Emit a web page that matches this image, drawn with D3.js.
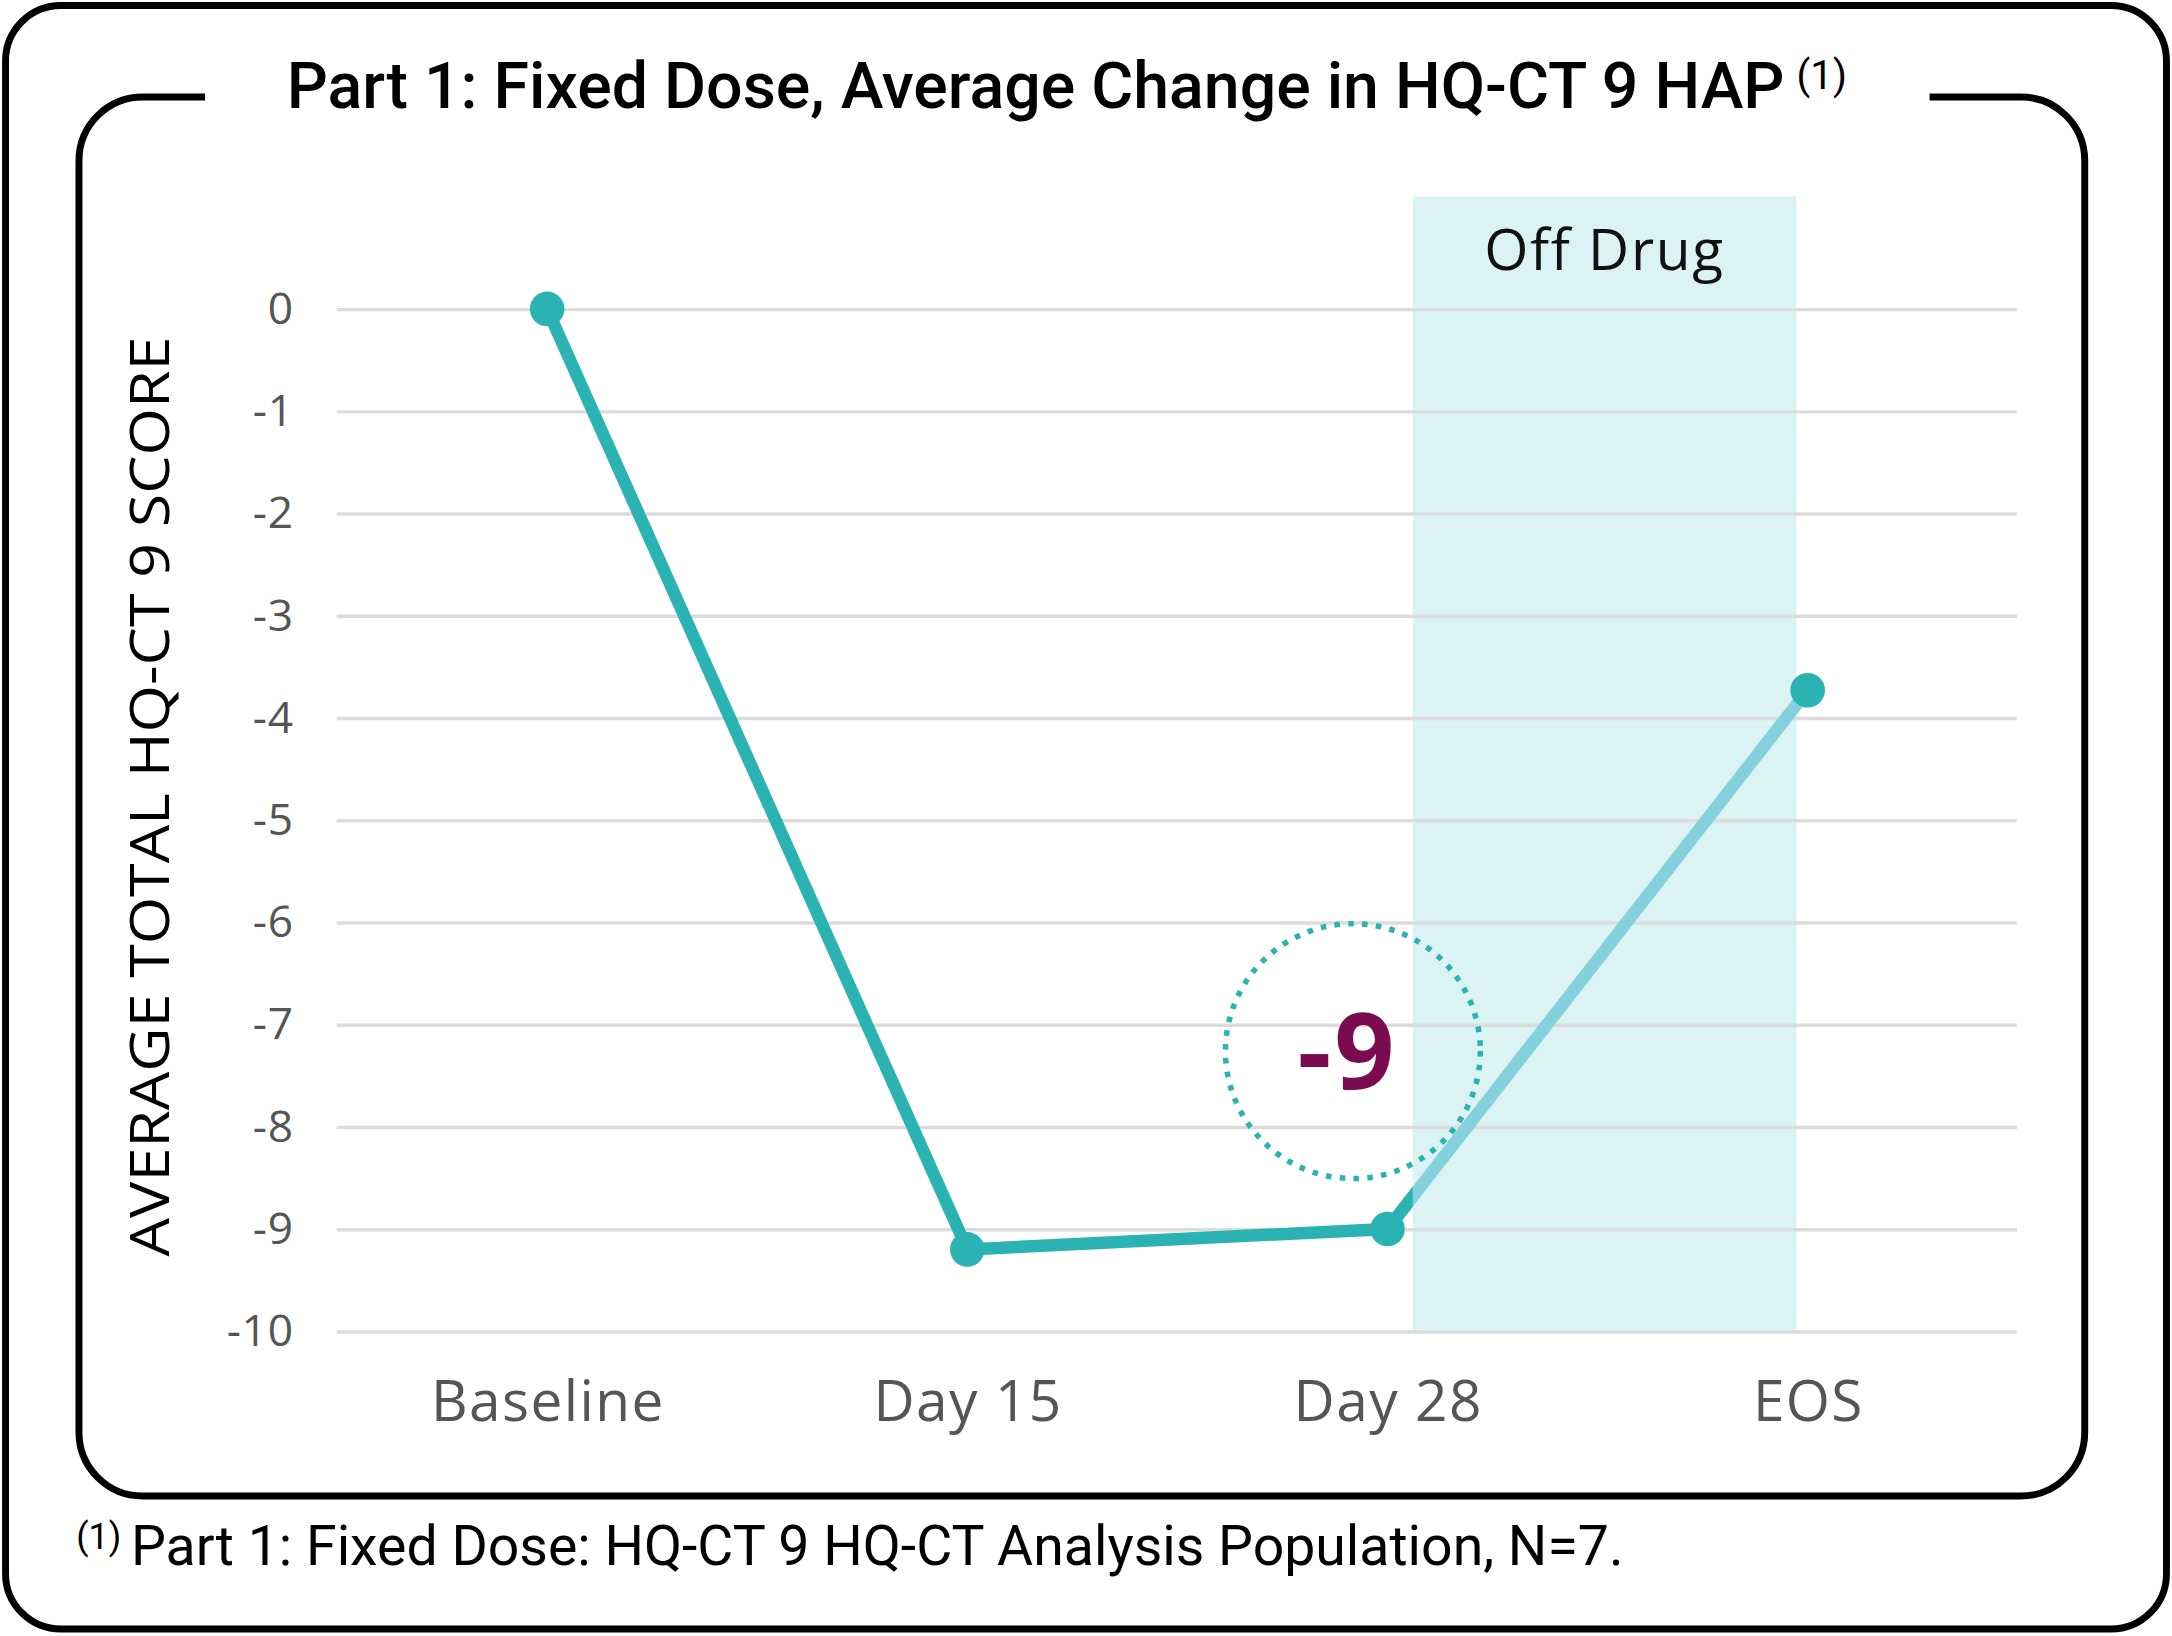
<!DOCTYPE html>
<html>
<head>
<meta charset="utf-8">
<script src="https://cdn.jsdelivr.net/npm/d3@7"></script>
<style>
  html, body { margin: 0; padding: 0; background: #fff; }
  svg { display: block; }
</style>
</head>
<body>
<svg id="canvas" width="2172" height="1636" viewBox="0 0 1568 1181"></svg>
<script>
'use strict';

/* chart data */
const categories = ['Baseline', 'Day 15', 'Day 28', 'EOS'];
const changeValues = [0, -9.2, -9.0, -3.73];
const yTicks = [0, -1, -2, -3, -4, -5, -6, -7, -8, -9, -10];
const offDrugFrom = 'Day 28';
const offDrugTo = 'EOS';
const highlightLabel = '-9';

const titleText = 'Part 1: Fixed Dose, Average Change in HQ-CT 9 HAP';
const yTitle = 'AVERAGE TOTAL HQ-CT 9 SCORE';
const footText = 'Part 1: Fixed Dose: HQ-CT 9 HQ-CT Analysis Population, N=7.';

const teal = '#2bb3b3';
const lightTeal = '#84d1dd';
const shade = '#dbf3f3';
const plum = '#7a0b50';
const sans = "'Open Sans', 'DejaVu Sans', sans-serif";
const roboto = "Roboto, 'Liberation Sans', sans-serif";

const svg = d3.select('#canvas');

/* plotting area, in viewBox units */
const plot = {left: 243, right: 1456, top: 223, bottom: 961};

const x = d3.scalePoint()
  .domain(categories)
  .range([395, 1305]);
const y = d3.scaleLinear()
  .domain([-10, 0])
  .range([plot.bottom, plot.top]);

const data = categories.map((c, i) => ({cat: c, value: changeValues[i]}));

/* outer frame */
svg.append('rect')
  .attr('x', 4).attr('y', 4)
  .attr('width', 1560).attr('height', 1172)
  .attr('rx', 40)
  .attr('fill', '#fff')
  .attr('stroke', '#000')
  .attr('stroke-width', 5);

/* inner frame, open at the top to leave room for the title */
const fx0 = 57, fx1 = 1505, fy0 = 70, fy1 = 1080, r = 46;
const framePath = d3.path();
framePath.moveTo(148, fy0);
framePath.lineTo(fx0 + r, fy0);
framePath.arcTo(fx0, fy0, fx0, fy0 + r, r);
framePath.lineTo(fx0, fy1 - r);
framePath.arcTo(fx0, fy1, fx0 + r, fy1, r);
framePath.lineTo(fx1 - r, fy1);
framePath.arcTo(fx1, fy1, fx1, fy1 - r, r);
framePath.lineTo(fx1, fy0 + r);
framePath.arcTo(fx1, fy0, fx1 - r, fy0, r);
framePath.lineTo(1393, fy0);
svg.append('path')
  .attr('d', framePath.toString())
  .attr('fill', 'none')
  .attr('stroke', '#000')
  .attr('stroke-width', 5);

/* title with superscript note marker */
const title = svg.append('text')
  .attr('x', 207).attr('y', 78)
  .style('font-family', roboto)
  .style('font-weight', 500)
  .style('font-size', '46.5px')
  .attr('fill', '#000');
title.append('tspan').text(titleText);
title.append('tspan')
  .attr('x', 1297).attr('y', 64)
  .style('font-size', '29px')
  .style('font-weight', 400)
  .text('(1)');

/* off drug band */
const step = x.step();
const bandX0 = x(offDrugFrom) + step * 0.06;
const bandX1 = x(offDrugTo) - step * 0.027;
svg.append('rect')
  .attr('x', bandX0)
  .attr('y', y(1.1))
  .attr('width', bandX1 - bandX0)
  .attr('height', y(-10) - y(1.1))
  .attr('fill', shade);
svg.append('text')
  .attr('x', (bandX0 + bandX1) / 2)
  .attr('y', 195)
  .attr('text-anchor', 'middle')
  .style('font-family', sans)
  .style('font-size', '41px')
  .style('letter-spacing', '1.2px')
  .attr('fill', '#111')
  .text('Off Drug');

/* gridlines and y tick labels */
const yAxis = d3.axisLeft(y)
  .tickValues(yTicks)
  .tickSize(-(plot.right - plot.left))
  .tickPadding(31)
  .tickFormat(d => String(d));
const gy = svg.append('g')
  .attr('transform', 'translate(' + plot.left + ',0)')
  .call(yAxis);
gy.select('.domain').remove();
gy.selectAll('.tick line')
  .attr('stroke', '#dcdcdc')
  .attr('stroke-width', 2.5);
gy.selectAll('.tick text')
  .style('font-family', sans)
  .style('font-size', '32px')
  .style('letter-spacing', '0.5px')
  .attr('fill', '#555');

/* x axis labels */
const xAxis = d3.axisBottom(x).tickSize(0).tickPadding(0);
const gx = svg.append('g')
  .attr('transform', 'translate(0,' + 1026 + ')')
  .call(xAxis);
gx.select('.domain').remove();
gx.selectAll('.tick text')
  .attr('dy', 0)
  .attr('y', 0)
  .style('font-family', sans)
  .style('font-size', '41px')
  .style('letter-spacing', '1px')
  .attr('fill', '#555');

/* y axis title */
svg.append('text')
  .attr('transform', 'translate(122,575) rotate(-90)')
  .attr('text-anchor', 'middle')
  .attr('textLength', 664)
  .attr('lengthAdjust', 'spacingAndGlyphs')
  .style('font-family', sans)
  .style('font-size', '40px')
  .attr('fill', '#000')
  .text(yTitle);

/* line: on drug part in teal, off drug part light, with a teal stub outside the band */
const line = d3.line()
  .x(d => x(d.cat))
  .y(d => y(d.value));
const iFrom = categories.indexOf(offDrugFrom);
const onDrug = data.slice(0, iFrom + 1);
const offDrug = data.slice(iFrom);

svg.append('clipPath').attr('id', 'before-band')
  .append('rect')
  .attr('x', 0).attr('y', 0)
  .attr('width', bandX0).attr('height', 1181);

svg.append('path')
  .datum(offDrug)
  .attr('d', line)
  .attr('fill', 'none')
  .attr('stroke', lightTeal)
  .attr('stroke-width', 9);
svg.append('path')
  .datum(offDrug)
  .attr('d', line)
  .attr('clip-path', 'url(#before-band)')
  .attr('fill', 'none')
  .attr('stroke', teal)
  .attr('stroke-width', 9);
svg.append('path')
  .datum(onDrug)
  .attr('d', line)
  .attr('fill', 'none')
  .attr('stroke', teal)
  .attr('stroke-width', 9)
  .attr('stroke-linejoin', 'round');

svg.append('g').selectAll('circle')
  .data(data)
  .join('circle')
  .attr('cx', d => x(d.cat))
  .attr('cy', d => y(d.value))
  .attr('r', 12.5)
  .attr('fill', teal);

/* highlight callout */
const cx = x(offDrugFrom) - 25;
const cy = y(-7.26);
svg.append('circle')
  .attr('cx', cx).attr('cy', cy)
  .attr('r', 92)
  .attr('fill', 'none')
  .attr('stroke', teal)
  .attr('stroke-width', 4)
  .attr('stroke-dasharray', '4 6');
svg.append('text')
  .attr('x', cx - 4).attr('y', cy + 27)
  .attr('text-anchor', 'middle')
  .style('font-family', sans)
  .style('font-weight', 700)
  .style('font-size', '76px')
  .style('letter-spacing', '2px')
  .attr('fill', plum)
  .text(highlightLabel);

/* footnote */
const foot = svg.append('text')
  .attr('x', 55).attr('y', 1130)
  .style('font-family', roboto)
  .style('font-size', '40px')
  .attr('fill', '#000');
foot.append('tspan')
  .attr('dy', -12)
  .style('font-size', '26px')
  .text('(1)');
foot.append('tspan')
  .attr('dx', 7).attr('dy', 12)
  .text(footText);
</script>
</body>
</html>
